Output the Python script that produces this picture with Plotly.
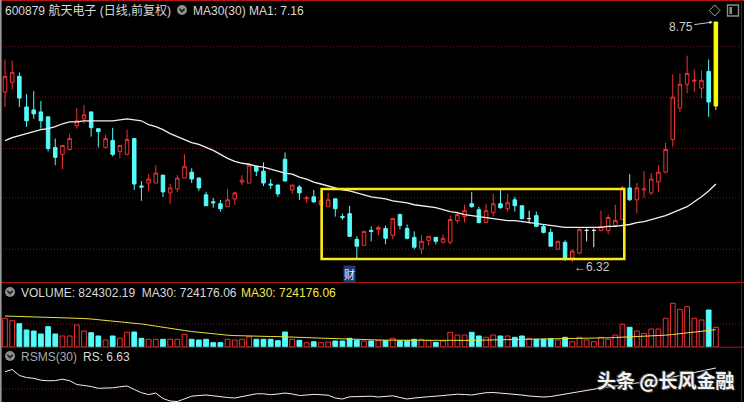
import plotly.graph_objects as go

# ---------------- data ----------------
opens = [8.04, 8.14, 8.20, 7.89, 7.86, 7.84, 7.79, 7.48, 7.41, 7.46,
         7.70, 7.77, 7.84, 7.67, 7.48, 7.55, 7.44, 7.41, 7.57, 7.09,
         7.12, 7.12, 7.20, 7.02, 7.06, 7.17, 7.23, 7.17, 7.00, 6.93,
         6.91, 6.88, 6.96, 7.13, 7.12, 7.29, 7.24, 7.11, 7.10, 7.36,
         7.05, 7.08, 6.96, 6.98, 6.90, 6.88, 6.96, 6.78, 6.81, 6.55,
         6.49, 6.64, 6.65, 6.66, 6.59, 6.80, 6.66, 6.57, 6.45, 6.54,
         6.57, 6.52, 6.52, 6.74, 6.78, 6.91, 6.85, 6.72, 6.82, 6.91,
         6.86, 6.95, 6.89, 6.76, 6.79, 6.68, 6.62, 6.45, 6.52, 6.36,
         6.41, 6.64, 6.64, 6.64, 6.64, 6.69, 6.75, 7.07, 6.95, 7.05,
         7.02, 7.13, 7.23, 7.56, 7.88, 8.12, 8.15, 8.08, 8.25, 7.90]
closes = [8.20, 8.24, 7.98, 7.75, 7.82, 7.75, 7.47, 7.38, 7.50, 7.57,
          7.75, 7.81, 7.68, 7.64, 7.57, 7.41, 7.50, 7.56, 7.11, 7.08,
          7.16, 7.22, 7.03, 7.07, 7.17, 7.29, 7.16, 7.07, 6.89, 6.92,
          6.86, 6.95, 7.02, 7.15, 7.30, 7.24, 7.12, 7.10, 7.01, 7.14,
          7.10, 7.02, 6.97, 6.93, 6.94, 6.95, 6.86, 6.77, 6.58, 6.48,
          6.63, 6.63, 6.67, 6.56, 6.76, 6.69, 6.56, 6.47, 6.53, 6.58,
          6.53, 6.56, 6.75, 6.80, 6.84, 6.88, 6.72, 6.84, 6.91, 6.87,
          6.92, 6.89, 6.76, 6.76, 6.68, 6.62, 6.48, 6.53, 6.36, 6.43,
          6.65, 6.64, 6.64, 6.68, 6.77, 6.74, 7.07, 6.95, 7.07, 7.06,
          7.16, 7.23, 7.46, 7.99, 8.12, 8.23, 8.16, 8.16, 7.94, 8.75]
highs = [8.37, 8.36, 8.24, 8.02, 8.05, 7.95, 7.79, 7.57, 7.50, 7.62,
         7.88, 7.91, 7.84, 7.67, 7.61, 7.68, 7.50, 7.66, 7.57, 7.14,
         7.21, 7.30, 7.20, 7.11, 7.20, 7.41, 7.27, 7.18, 7.03, 6.97,
         6.95, 7.06, 7.03, 7.20, 7.32, 7.30, 7.33, 7.16, 7.10, 7.43,
         7.10, 7.10, 6.99, 7.05, 6.94, 7.02, 6.96, 6.81, 6.89, 6.58,
         6.63, 6.68, 6.69, 6.69, 6.76, 6.81, 6.70, 6.63, 6.59, 6.58,
         6.57, 6.60, 6.79, 6.83, 6.90, 7.03, 6.88, 6.91, 7.01, 7.06,
         7.01, 6.98, 6.89, 6.84, 6.83, 6.70, 6.66, 6.53, 6.54, 6.45,
         6.66, 6.66, 6.66, 6.84, 6.80, 6.90, 7.09, 7.21, 7.12, 7.24,
         7.22, 7.30, 7.53, 8.22, 8.23, 8.41, 8.27, 8.26, 8.37, 8.75]
lows = [7.89, 8.07, 7.89, 7.69, 7.77, 7.67, 7.44, 7.30, 7.26, 7.45,
        7.67, 7.72, 7.59, 7.48, 7.47, 7.39, 7.37, 7.40, 7.05, 6.94,
        7.04, 7.12, 6.98, 6.91, 7.03, 7.17, 7.12, 7.04, 6.89, 6.87,
        6.83, 6.88, 6.90, 7.10, 7.12, 7.19, 7.09, 7.06, 6.98, 7.14,
        7.01, 6.95, 6.92, 6.92, 6.90, 6.88, 6.78, 6.75, 6.58, 6.36,
        6.48, 6.53, 6.59, 6.50, 6.55, 6.65, 6.55, 6.45, 6.40, 6.49,
        6.50, 6.51, 6.50, 6.71, 6.72, 6.87, 6.71, 6.72, 6.78, 6.86,
        6.83, 6.83, 6.75, 6.71, 6.68, 6.61, 6.48, 6.44, 6.33, 6.32,
        6.40, 6.53, 6.47, 6.63, 6.60, 6.69, 6.75, 6.94, 6.81, 6.97,
        7.00, 7.03, 7.22, 7.49, 7.84, 8.03, 8.04, 7.98, 7.79, 7.86]
ma30 = [7.55, 7.58, 7.60, 7.62, 7.64, 7.66, 7.67, 7.69, 7.72, 7.74,
        7.74, 7.75, 7.75, 7.75, 7.75, 7.75, 7.76, 7.77, 7.76, 7.75,
        7.71, 7.69, 7.66, 7.62, 7.59, 7.56, 7.53, 7.51, 7.48, 7.45,
        7.41, 7.37, 7.34, 7.32, 7.31, 7.29, 7.28, 7.26, 7.24, 7.22,
        7.21, 7.18, 7.16, 7.13, 7.11, 7.09, 7.07, 7.05, 7.04, 7.02,
        7.00, 6.98, 6.97, 6.96, 6.94, 6.93, 6.92, 6.90, 6.89, 6.88,
        6.87, 6.85, 6.83, 6.82, 6.80, 6.79, 6.78, 6.77, 6.76, 6.75,
        6.74, 6.74, 6.73, 6.72, 6.71, 6.70, 6.69, 6.68, 6.67, 6.67,
        6.67, 6.67, 6.67, 6.67, 6.68, 6.68, 6.69, 6.70, 6.72, 6.73,
        6.75, 6.77, 6.79, 6.82, 6.85, 6.88, 6.93, 6.98, 7.04, 7.11]
volume = [1207000, 1105000, 977000, 710000, 667000, 540000, 850000, 540000, 455000, 455000,
          922000, 667000, 595000, 455000, 285000, 455000, 357000, 612000, 625000, 357000,
          314000, 314000, 314000, 314000, 314000, 527000, 314000, 285000, 314000, 170000,
          170000, 314000, 285000, 314000, 425000, 314000, 314000, 314000, 255000, 625000,
          314000, 272000, 170000, 212000, 170000, 200000, 242000, 242000, 357000, 272000,
          242000, 242000, 255000, 255000, 357000, 255000, 255000, 314000, 314000, 255000,
          187000, 242000, 612000, 497000, 497000, 612000, 455000, 399000, 497000, 455000,
          455000, 399000, 455000, 357000, 314000, 314000, 340000, 285000, 399000, 212000,
          399000, 285000, 212000, 399000, 314000, 497000, 952000, 824000, 667000, 569000,
          752000, 752000, 1207000, 1844000, 1589000, 1700000, 1207000, 1134000, 1559000, 824302.19]
volume_ma30 = [1304000, 1296000, 1287000, 1279000, 1270000, 1262000, 1258000, 1249000, 1245000, 1236000,
               1219000, 1198000, 1177000, 1151000, 1122000, 1092000, 1066000, 1037000, 1007000, 965000,
               922000, 871000, 816000, 773000, 731000, 688000, 646000, 612000, 574000, 540000,
               506000, 489000, 472000, 459000, 450000, 442000, 438000, 433000, 429000, 425000,
               412000, 399000, 387000, 374000, 361000, 348000, 336000, 323000, 314000, 306000,
               297000, 289000, 285000, 280000, 276000, 272000, 268000, 263000, 259000, 259000,
               255000, 255000, 259000, 263000, 268000, 272000, 276000, 280000, 285000, 293000,
               297000, 302000, 310000, 314000, 319000, 323000, 327000, 331000, 336000, 344000,
               353000, 357000, 365000, 370000, 378000, 391000, 404000, 412000, 421000, 433000,
               446000, 463000, 489000, 518000, 552000, 586000, 620000, 659000, 688000, 724176.06]
rsms = [6.26, 6.48, 5.88, 5.68, 5.60, 5.41, 5.35, 5.37, 5.51, 5.36,
        4.98, 4.88, 4.78, 4.60, 4.60, 4.65, 4.75, 4.83, 4.48, 4.16,
        3.97, 4.13, 3.58, 3.33, 3.28, 3.58, 3.81, 3.88, 3.93, 3.85,
        3.75, 3.68, 3.63, 3.78, 3.93, 4.05, 4.05, 3.96, 4.03, 4.13,
        4.03, 3.88, 3.93, 3.99, 3.96, 3.91, 3.63, 3.53, 3.75, 3.76,
        3.76, 3.81, 3.73, 3.78, 3.85, 3.68, 3.53, 3.63, 3.73, 3.76,
        3.81, 3.88, 3.95, 4.01, 3.98, 3.93, 4.05, 4.16, 4.18, 4.13,
        4.01, 3.97, 3.93, 3.83, 3.78, 3.73, 3.78, 3.91, 4.01, 4.10,
        4.23, 4.38, 4.51, 4.63, 4.73, 4.83, 4.93, 5.03, 5.13, 5.23,
        5.33, 5.43, 5.53, 5.73, 5.88, 6.03, 6.18, 6.33, 6.43, 6.63]

price_grid = [8.50, 7.99, 7.47, 6.97, 6.45]
volume_grid = [964000]
rsms_grid = [4.53]

box_from_idx, box_to_idx = 44.1, 86.25
box_low, box_high = 6.351, 7.059
low_label_idx, low_label = 79, 6.32
high_label_idx, high_label = 99, 8.75
report_idx = 48

title_main = "600879 航天电子 (日线,前复权)"
title_ma = "MA30(30)"
title_ma1 = "MA1: 7.16"
title_vol = "VOLUME: 824302.19  MA30: 724176.06"
title_vol_ma = "MA30: 724176.06"
title_rs = "RSMS(30)"
title_rs_val = "RS: 6.63"
watermark = "头条 @长风金融"

# ---------------- style ----------------
W, H = 744, 402
BG = "#000000"
RED = "#F03232"
CYAN = "#54FCFC"
WHITE = "#F0F0F0"
YELLOW = "#FFFF00"
BOXY = "#FFE81A"
GRID = "#8A1010"
SEP = "#B41414"
TXT = "#DADADA"
FONT = "Liberation Sans, Noto Sans CJK SC, sans-serif"

def px(x):
    return x / W

def py(y):
    return 1 - y / H

n = len(closes)
idx = list(range(n))
XR = [-0.696, 102.92]


def group(i):
    if i == n - 1:
        return "sel"
    if closes[i] > opens[i]:
        return "up"
    if closes[i] < opens[i]:
        return "down"
    return "flat"


def sub(arr, g):
    return [arr[i] if group(i) == g else None for i in idx]


fig = go.Figure()

styles = {"up": (RED, BG), "down": (CYAN, CYAN), "flat": (WHITE, WHITE), "sel": (YELLOW, YELLOW)}
for g, (lc, fc) in styles.items():
    fig.add_trace(go.Candlestick(
        x=idx, open=sub(opens, g), high=sub(highs, g), low=sub(lows, g), close=sub(closes, g),
        increasing=dict(line=dict(color=lc, width=1), fillcolor=fc),
        decreasing=dict(line=dict(color=lc, width=1), fillcolor=fc),
        whiskerwidth=0, xaxis="x", yaxis="y", showlegend=False, hoverinfo="skip"))

fig.add_trace(go.Scatter(x=idx, y=ma30, mode="lines", line=dict(color=WHITE, width=1.3),
                         xaxis="x", yaxis="y", hoverinfo="skip"))

up_vol = [closes[i] >= opens[i] for i in idx]
fig.add_trace(go.Bar(x=idx, y=volume, width=0.66,
                     marker=dict(color=[BG if u else CYAN for u in up_vol],
                                 line=dict(color=[RED if u else CYAN for u in up_vol], width=1)),
                     xaxis="x2", yaxis="y2", hoverinfo="skip"))
fig.add_trace(go.Scatter(x=idx, y=volume_ma30, mode="lines", line=dict(color="#E8E040", width=1),
                         xaxis="x2", yaxis="y2", hoverinfo="skip"))

fig.add_trace(go.Scatter(x=idx, y=rsms, mode="lines", line=dict(color=WHITE, width=1),
                         xaxis="x3", yaxis="y3", hoverinfo="skip"))

shapes = []
dot = "1px,2px"
for p in price_grid:
    shapes.append(dict(type="line", xref="paper", yref="y", x0=0, x1=1, y0=p, y1=p,
                       line=dict(color=GRID, width=1, dash=dot), layer="below"))
for v in volume_grid:
    shapes.append(dict(type="line", xref="paper", yref="y2", x0=0, x1=1, y0=v, y1=v,
                       line=dict(color=GRID, width=1, dash=dot), layer="below"))
for r in rsms_grid:
    shapes.append(dict(type="line", xref="paper", yref="y3", x0=0, x1=1, y0=r, y1=r,
                       line=dict(color=GRID, width=1, dash=dot), layer="below"))

# panel borders
for yy in (0.5, 282.5, 347.2):
    shapes.append(dict(type="line", xref="paper", yref="paper", x0=0, x1=1, y0=py(yy), y1=py(yy),
                       line=dict(color=SEP, width=1), layer="below"))
shapes.append(dict(type="line", xref="paper", yref="paper", x0=px(0.8), x1=px(0.8), y0=0, y1=1,
                   line=dict(color="#9A9A9A", width=1.6)))
shapes.append(dict(type="line", xref="paper", yref="paper", x0=px(741.5), x1=px(741.5), y0=0, y1=1,
                   line=dict(color="#7A0E0E", width=1)))

# highlighted consolidation box
shapes.append(dict(type="rect", xref="x", yref="y", x0=box_from_idx, x1=box_to_idx, y0=box_low, y1=box_high,
                   line=dict(color=BOXY, width=2.6), fillcolor="rgba(0,0,0,0)"))

# little circle icons with chevrons
for cx, cy in ((182, 10), (10, 292), (10, 356)):
    shapes.append(dict(type="circle", xref="paper", yref="paper", x0=px(cx - 5), x1=px(cx + 5),
                       y0=py(cy + 5), y1=py(cy - 5), fillcolor="#8E8E8E", line=dict(width=0)))
    shapes.append(dict(type="path", xref="paper", yref="paper",
                       path=f"M {px(cx-2.6)},{py(cy-1.2)} L {px(cx)},{py(cy+1.6)} L {px(cx+2.6)},{py(cy-1.2)}",
                       line=dict(color="#1A1A1A", width=1.5)))

# top-right icons
shapes.append(dict(type="path", xref="paper", yref="paper",
                   path=f"M {px(714.7)},{py(5)} L {px(720)},{py(10.5)} L {px(714.7)},{py(16)} L {px(709.4)},{py(10.5)} Z",
                   line=dict(color="#A8A8A8", width=1)))
shapes.append(dict(type="rect", xref="paper", yref="paper", x0=px(727.5), x1=px(738.5), y0=py(16), y1=py(5),
                   line=dict(color="#8E8E8E", width=1.4)))
shapes.append(dict(type="rect", xref="paper", yref="paper", x0=px(729.5), x1=px(732), y0=py(14), y1=py(7),
                   fillcolor="#8E8E8E", line=dict(width=0)))

ann = []


def text(x, y, s, color=TXT, size=12, anchor="left", family=FONT):
    ann.append(dict(xref="paper", yref="paper", x=px(x), y=py(y), text=s, showarrow=False,
                    xanchor=anchor, yanchor="middle", font=dict(color=color, size=size, family=family)))


text(3, 10.5, title_main)
text(191, 10.5, title_ma)
text(247, 10.5, title_ma1)
text(19, 292.5, title_vol)
text(238.5, 292.5, title_vol_ma, color="#F0E850")
text(19, 356.5, title_rs, color="#A8A8A8")
text(81, 356.5, title_rs_val)

ann.append(dict(xref="x", yref="y", x=low_label_idx, y=low_label, text="←" + f"{low_label:.2f}",
                showarrow=False, xanchor="left", yanchor="middle", yshift=-5,
                font=dict(color="#C8C8C8", size=12, family=FONT)))
ann.append(dict(xref="x", yref="y", x=high_label_idx, y=high_label, text=f"{high_label:.2f}",
                showarrow=True, ax=-32, ay=4.5, xshift=-3, arrowhead=2, arrowsize=0.7, arrowwidth=1,
                arrowcolor="#C8C8C8", standoff=0, startstandoff=0,
                font=dict(color="#D0D0D0", size=12, family=FONT)))
ann.append(dict(xref="x", yref="paper", x=report_idx, y=py(273.5), text="财", showarrow=False,
                xanchor="center", yanchor="middle", bgcolor="#22387A", borderpad=0,
                font=dict(color="#E6E8FF", size=11, family="Noto Sans CJK SC")))
ann.append(dict(xref="paper", yref="paper", x=px(595), y=py(379), text=f"<b>{watermark}</b>",
                showarrow=False, xanchor="left", yanchor="middle",
                font=dict(color="#F2F2F2", size=19, family="Noto Sans CJK SC",
                          shadow="1px 1px 1px #3A3A3A, -1px -1px 1px #3A3A3A")))

main_bottom = py(282.5)
vol_bottom = py(346.7)
axis_off = dict(visible=False, showgrid=False, zeroline=False, fixedrange=True)
fig.update_layout(
    width=W, height=H, margin=dict(l=0, r=0, t=0, b=0),
    paper_bgcolor=BG, plot_bgcolor=BG, showlegend=False, hovermode=False,
    xaxis=dict(domain=[0, 1], range=XR, anchor="y", rangeslider=dict(visible=False), **axis_off),
    yaxis=dict(domain=[main_bottom, 1], range=[6.1127, 8.973], anchor="x", **axis_off),
    xaxis2=dict(domain=[0, 1], range=XR, anchor="y2", **axis_off),
    yaxis2=dict(domain=[vol_bottom, main_bottom], range=[0, 2727858], anchor="x2", **axis_off),
    xaxis3=dict(domain=[0, 1], range=XR, anchor="y3", **axis_off),
    yaxis3=dict(domain=[0, vol_bottom], range=[3.23, 8.76], anchor="x3", **axis_off),
    shapes=shapes, annotations=ann,
)

fig.write_html("out.html", config=dict(displayModeBar=False),
               post_script="document.body.style.margin='0';document.body.style.background='#000';")
